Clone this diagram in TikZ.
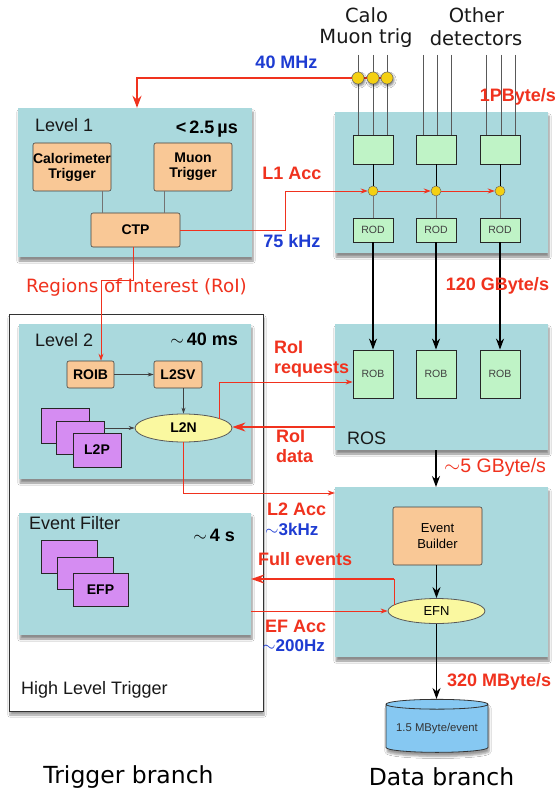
\documentclass[tikz,border=0pt]{standalone}
\usepackage{fontspec}
\setmainfont{Liberation Sans}
\newfontfamily\dejavu{DejaVu Sans}
\usetikzlibrary{arrows.meta,shapes.geometric,shadows.blur}
\definecolor{tealc}{HTML}{AAD9DD}
\definecolor{orangec}{HTML}{F9C896}
\definecolor{greenc}{HTML}{BFF3C6}
\definecolor{purplec}{HTML}{D58CF2}
\definecolor{yellowc}{HTML}{FAF8A0}
\definecolor{goldc}{HTML}{F4D012}
\definecolor{cylc}{HTML}{86C8F2}
\definecolor{redc}{HTML}{F0321E}
\definecolor{bluec}{HTML}{1E3CD2}
\tikzset{
  panel/.style={fill=tealc, draw=none, inner sep=0pt,
    blur shadow={shadow xshift=1pt, shadow yshift=-4pt, shadow blur steps=6, shadow opacity=45}},
  obox/.style={draw=black!75, fill=orangec, rounded corners=2pt, line width=0.6pt,
    font=\fontsize{14}{15}\selectfont\bfseries, align=center, inner sep=0pt},
  gbox/.style={draw=black!85, fill=greenc, line width=0.8pt, inner sep=0pt,
    font=\fontsize{10.5}{12}\selectfont, text=black!75, minimum width=40pt},
  pbox/.style={draw=black!85, fill=purplec, line width=0.8pt, inner sep=0pt,
    font=\fontsize{14}{15}\selectfont\bfseries},
  ell/.style={ellipse, draw=black!65, fill=yellowc, line width=0.8pt, inner sep=0pt,
    font=\fontsize{14}{15}\selectfont\bfseries},
  dotsm/.style={circle, draw=black!60, fill=goldc, line width=0.5pt, minimum size=10pt, inner sep=0pt},
  dotbig/.style={circle, draw=black!60, fill=goldc, line width=0.5pt, minimum size=12pt, inner sep=0pt,
    blur shadow={shadow xshift=1pt, shadow yshift=-2pt, shadow blur steps=4, shadow opacity=50}},
  redln/.style={draw=redc, line width=0.8pt},
  redar/.style={draw=redc, line width=0.8pt, -{Stealth[length=7pt,width=5pt]}},
  redbig/.style={draw=redc, line width=1.3pt, -{Stealth[length=13pt,width=9pt]}},
  blkar/.style={draw=black, line width=1.4pt, -{Stealth[length=11pt,width=8pt]}},
  thinar/.style={draw=black!75, line width=0.6pt, -{Stealth[length=6pt,width=4pt]}},
  detln/.style={draw=black!65, line width=0.8pt},
  rlab/.style={text=redc, font=\fontsize{18}{20}\selectfont\bfseries, inner sep=0pt, align=left},
  blab/.style={text=bluec, font=\fontsize{17}{19}\selectfont\bfseries, inner sep=0pt},
  lvl/.style={font=\fontsize{18}{20}\selectfont, inner sep=0pt, text=black!90},
  tim/.style={font=\fontsize{18}{20}\selectfont\bfseries, inner sep=0pt},
  bigt/.style={font=\dejavu\fontsize{19.5}{22}\selectfont, inner sep=0pt, text=black!90},
}
\begin{document}
\begin{tikzpicture}[x=1pt,y=-1pt]
\fill[white] (0,0) rectangle (557,794);
\useasboundingbox (0,0) rectangle (557,794);

% ---------- top labels
\node[bigt] (calo) at (366.5,15) {Calo};
\node[bigt] (muontrig) at (366,38) {Muon trig};
\node[bigt] (other) at (476.5,15) {Other};
\node[bigt] (detectors) at (476,38) {detectors};

% ---------- panels
\node[panel, minimum width=234pt, minimum height=149pt] (L1) at (135,182.5) {};
\node[panel, minimum width=213pt, minimum height=141pt] (DET) at (441.5,182.5) {};
\node[draw=black!80, line width=0.8pt, fill=white, minimum width=254pt, minimum height=397pt,
  blur shadow={shadow xshift=1pt, shadow yshift=-4pt, shadow blur steps=6, shadow opacity=40}] (HLT) at (136,512.5) {};
\node[panel, minimum width=232pt, minimum height=155pt] (L2) at (135,401.5) {};
\node[panel, minimum width=213pt, minimum height=126pt] (ROS) at (441.5,387) {};
\node[panel, minimum width=232pt, minimum height=122pt] (EF) at (135,574) {};
\node[panel, minimum width=213pt, minimum height=170pt] (EBB) at (441.5,572) {};

% ---------- Level 1
\node[lvl, anchor=west] (l1t) at (35,125) {Level 1};
\node[tim, anchor=east] (l1time) at (238,129) {<\,2.5\,µs};
\node[obox, minimum width=78pt, minimum height=48pt] (Calo) at (72,167) {Calorimeter\\Trigger};
\node[obox, minimum width=78pt, minimum height=48pt] (Muon) at (193,167) {Muon\\Trigger};
\node[obox, minimum width=89pt, minimum height=34pt] (CTP) at (135.5,230) {CTP};
\coordinate (cl) at (102,0);
\coordinate (cm) at (164,0);
\draw[draw=black!55, line width=0.6pt] (Calo.south -| cl) -- (CTP.north -| cl);
\draw[draw=black!55, line width=0.6pt] (Muon.south -| cm) -- (CTP.north -| cm);

% ---------- detector lines and front-end
\foreach \i/\x in {1/358,2/373,3/387,4/423,5/437,6/451,7/486,8/501,9/515}{
  \coordinate (t\i) at (\x,55);
}
\foreach \i/\x in {1/373,2/436,3/500}{
  \node[gbox, minimum height=29pt] (G\i) at (\x,149.5) {};
  \node[gbox, minimum height=24pt] (ROD\i) at (\x,230) {ROD};
  \node[gbox, minimum height=48pt] (ROB\i) at (\x,374) {ROB};
}
\foreach \i in {1,2,3}{\draw[detln] (t\i) -- (t\i |- G1.north);}
\foreach \i in {4,5,6}{\draw[detln] (t\i) -- (t\i |- G2.north);}
\foreach \i in {7,8,9}{\draw[detln] (t\i) -- (t\i |- G3.north);}

% 40 MHz
\coordinate (c40) at (137,78);
\draw[draw=redc, line width=1.5pt] (387,78) -- (358,78);
\draw[draw=redc, line width=1.5pt, -{Stealth[length=12pt,width=9pt]}] (358,78) -- (c40) -- (c40 |- L1.north);
\node[dotbig] (T1) at (358,78) {};
\node[dotbig] (T2) at (373,78) {};
\node[dotbig] (T3) at (387,78) {};

\foreach \i/\x in {1/373,2/436,3/500}{
  \node[dotsm] (D\i) at (\x,191) {};
  \draw[draw=black, line width=0.8pt] (G\i) -- (D\i);
  \draw[draw=black!55, line width=0.8pt] (D\i) -- (ROD\i);
  \draw[blkar] (ROD\i) -- (ROB\i);
}

% L1 accept
\coordinate (ctpc) at (285,191);
\draw[redar] (CTP.east) -| (ctpc) -- (D1);
\draw[redar] (D1) -- (D2);
\draw[redar] (D2) -- (D3);

% ---------- Level 2
\node[lvl, anchor=west] (l2t) at (35,340) {Level 2};
\node[tim, anchor=east] (l2time) at (238,339) {$\sim$\,40 ms};
\node[obox, minimum width=47pt, minimum height=27pt] (ROIB) at (90.5,374.5) {ROIB};
\node[obox, minimum width=48pt, minimum height=27pt] (L2SV) at (178,374.5) {L2SV};
\node[ell, minimum width=97pt, minimum height=28pt] (L2N) at (183.5,428) {L2N};
\node[pbox, minimum width=48pt, minimum height=35pt] (P1) at (65,425.5) {};
\node[pbox, minimum width=48pt, minimum height=33pt] (P2) at (80,438) {};
\node[pbox, minimum width=48pt, minimum height=34pt] (P3) at (97,450) {L2P};
\draw[thinar] (ROIB) -- (L2SV);
\draw[thinar] (L2SV.south -| L2N.north) -- (L2N.north);
\draw[thinar] (P2.east |- L2N.west) -- (L2N.west);

% RoI
\coordinate (r1) at (133,280);
\coordinate (r2) at (101,280);
\draw[redar] (CTP.south -| r1) -- (r1) -- (r2) -- (r2 |- ROIB.north);
\node[text=redc, font=\dejavu\fontsize{18.3}{20}\selectfont, inner sep=0pt] (roitxt) at (136.5,287) {Regions of Interest (RoI)};

% RoI requests / data
\coordinate (rq0) at (219,418.5);
\coordinate (rq1) at (219,382);
\draw[redar] (rq0) -- (rq1) -- (rq1 -| ROB1.west);
\coordinate (rd0) at (335,427);
\draw[redbig] (rd0) -- (rd0 -| L2N.east);

% L2 accept
\coordinate (a2) at (183.5,493);
\draw[redar] (L2N.south) -- (a2) -- (a2 -| EBB.west);

% ---------- ROS
\node[lvl, anchor=west] (rost) at (347,438) {ROS};
\coordinate (e1) at (436,450);
\coordinate (e2) at (436,487);
\draw[blkar] (e1) -- (e2);

% ---------- Event Filter
\node[lvl, anchor=west] (eft) at (29,523) {Event Filter};
\node[tim, anchor=east] (eftime) at (235,535) {$\sim$\,4 s};
\node[pbox, minimum width=56pt, minimum height=33pt] (F1) at (69,556.5) {};
\node[pbox, minimum width=56pt, minimum height=32pt] (F2) at (85,573) {};
\node[pbox, minimum width=55pt, minimum height=33pt] (F3) at (100.5,589.5) {EFP};
\node[lvl, anchor=west] (hltt) at (21,690) {High Level Trigger};

% ---------- Event builder
\node[obox, font=\fontsize{13}{16}\selectfont, minimum width=89pt, minimum height=58pt] (EB) at (437.5,536) {Event\\Builder};
\node[ell, font=\fontsize{13}{15}\selectfont, minimum width=97pt, minimum height=25pt] (EFN) at (436.5,611) {EFN};
\draw[blkar] (EB.south -| EFN.north) -- (EFN.north);
\coordinate (fe0) at (394,605);
\coordinate (fe1) at (394,579);
\draw[redln] (fe0) -- (fe1);
\draw[redbig] (fe1) -- (fe1 -| EF.east);
\coordinate (ea) at (251,611);
\draw[redar] (ea) -- (EFN.west);

% storage
\node[cylinder, shape border rotate=90, aspect=0.12, draw=black!80, fill=cylc, line width=0.8pt,
  minimum width=102pt, minimum height=53pt, inner sep=0pt, font=\fontsize{11.3}{13}\selectfont, text=black!80,
  blur shadow={shadow xshift=1pt, shadow yshift=-4pt, shadow blur steps=5, shadow opacity=40}] (DB) at (437,728.5) {1.5 MByte/event};
\draw[blkar] (EFN.south) -- (EFN.south |- DB.north);

% ---------- rate labels
\node[blab, font=\fontsize{18}{20}\selectfont\bfseries] (mhz) at (286.5,62) {40 MHz};
\node[rlab, anchor=east] (pbs) at (556,97) {1PByte/s};
\node[rlab] (l1acc) at (292,173) {L1 Acc};
\node[blab, font=\fontsize{18}{20}\selectfont\bfseries] (khz75) at (292,241) {75 kHz};
\node[rlab] (gbs120) at (497.5,286) {120 GByte/s};
\node[rlab, anchor=west] (rreq) at (274,359) {RoI\\requests};
\node[rlab, anchor=west] (rdat) at (276,446) {RoI\\data};
\node[text=redc, font=\fontsize{19.5}{21}\selectfont, inner sep=0pt, anchor=west] (gbs5) at (444,467) {$\sim$5 GByte/s};
\node[rlab, anchor=west] (l2acc) at (267,509) {L2 Acc};
\node[blab, anchor=west] (khz3) at (265,529) {$\sim$3kHz};
\node[rlab, anchor=west] (fullev) at (258,559) {Full events};
\node[rlab, anchor=west] (efacc) at (265,626) {EF Acc};
\node[blab, anchor=west] (hz200) at (262,646) {$\sim$200Hz};
\node[rlab, anchor=west] (mbs320) at (447,682) {320 MByte/s};

% ---------- bottom labels
\node[font=\dejavu\fontsize{23.5}{26}\selectfont, inner sep=0pt] (trig) at (128.5,777) {Trigger branch};
\node[font=\dejavu\fontsize{23.5}{26}\selectfont, inner sep=0pt] (data) at (441.5,777) {Data branch};
\end{tikzpicture}
\end{document}
